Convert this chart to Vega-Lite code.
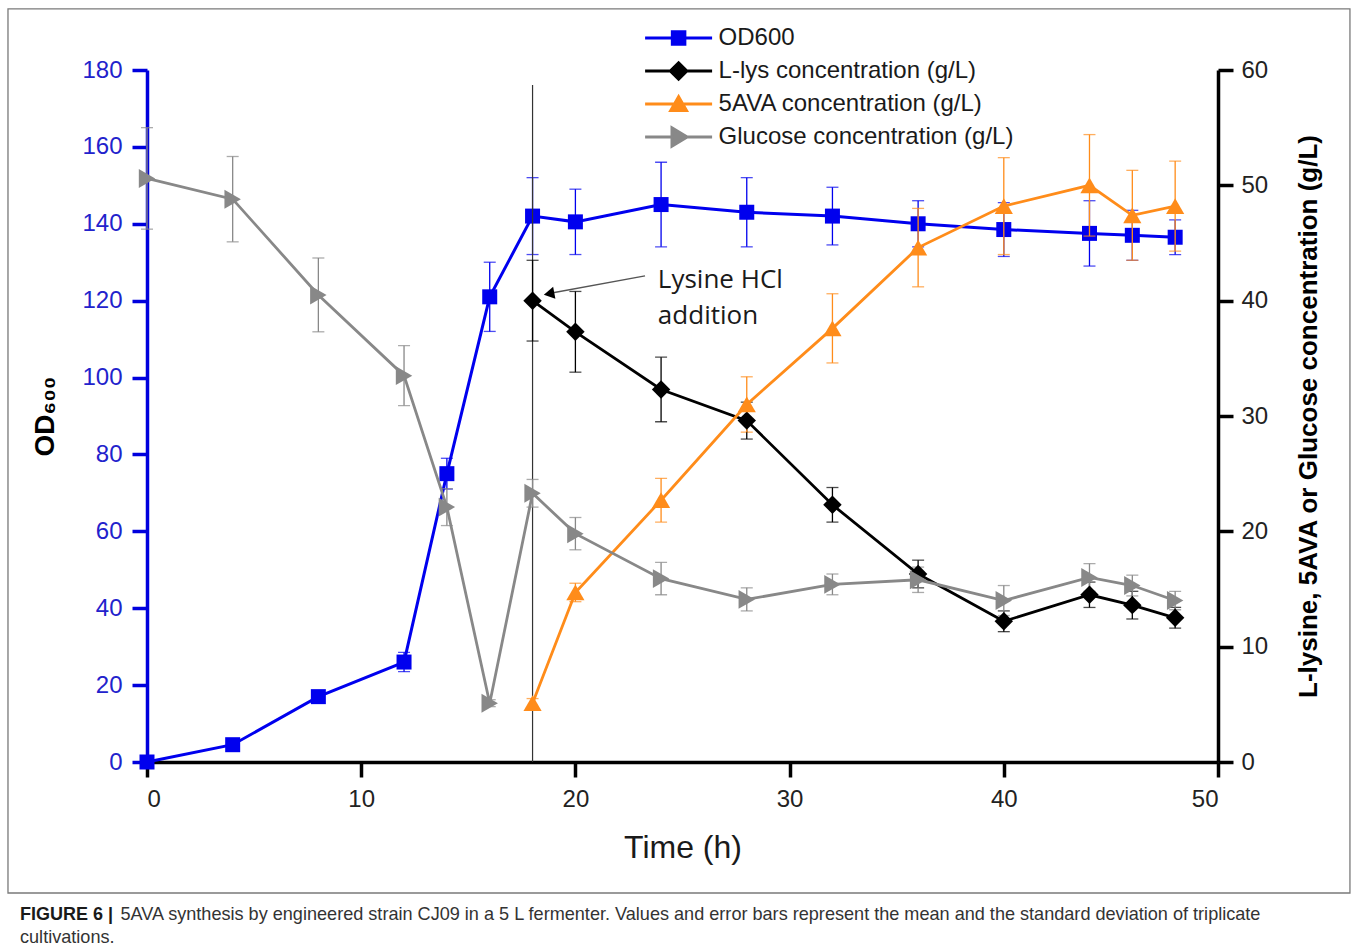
{
  "$schema": "https://vega.github.io/schema/vega-lite/v6.json",
  "width": 1071,
  "height": 692,
  "autosize": {"type": "none"},
  "padding": {"left": 147, "top": 70, "right": 142, "bottom": 189},
  "background": "white",
  "config": {"view": {"stroke": null}, "font": "Liberation Sans"},
  "title": {
    "text": "FIGURE 6 |",
    "subtitle": ["\u200b\u00a0\u00a0\u00a0\u00a0\u00a0\u00a0\u00a0\u00a0\u00a0\u00a0\u00a0\u00a0\u00a0\u00a0\u00a0\u00a0\u00a0\u00a0\u00a0\u00a05AVA synthesis by engineered strain CJ09 in a 5 L fermenter. Values and error bars represent the mean and the standard deviation of triplicate", "cultivations."],
    "orient": "bottom",
    "anchor": "start",
    "frame": "group",
    "dx": -127,
    "offset": 12,
    "font": "Liberation Sans",
    "fontSize": 18,
    "fontWeight": "bold",
    "color": "#1a1a1a",
    "subtitleFont": "Liberation Sans",
    "subtitleFontSize": 18.1,
    "subtitleColor": "#333333",
    "subtitlePadding": -18,
    "subtitleLineHeight": 23
  },
  "data": {
    "values": [
      {"t": 0, "series": "OD600", "v": 0, "sd": 0},
      {"t": 4, "series": "OD600", "v": 4.5, "sd": 0.5},
      {"t": 8, "series": "OD600", "v": 17, "sd": 0.8},
      {"t": 12, "series": "OD600", "v": 26, "sd": 2.5},
      {"t": 14, "series": "OD600", "v": 75, "sd": 4},
      {"t": 16, "series": "OD600", "v": 121, "sd": 9},
      {"t": 18, "series": "OD600", "v": 142, "sd": 10},
      {"t": 20, "series": "OD600", "v": 140.5, "sd": 8.5},
      {"t": 24, "series": "OD600", "v": 145, "sd": 11},
      {"t": 28, "series": "OD600", "v": 143, "sd": 9},
      {"t": 32, "series": "OD600", "v": 142, "sd": 7.5},
      {"t": 36, "series": "OD600", "v": 140, "sd": 6},
      {"t": 40, "series": "OD600", "v": 138.5, "sd": 7},
      {"t": 44, "series": "OD600", "v": 137.5, "sd": 8.5},
      {"t": 46, "series": "OD600", "v": 137, "sd": 6.5},
      {"t": 48, "series": "OD600", "v": 136.5, "sd": 4.5},
      {"t": 18, "series": "L-lys concentration (g/L)", "v": 40, "sd": 3.5},
      {"t": 20, "series": "L-lys concentration (g/L)", "v": 37.3, "sd": 3.5},
      {"t": 24, "series": "L-lys concentration (g/L)", "v": 32.3, "sd": 2.8},
      {"t": 28, "series": "L-lys concentration (g/L)", "v": 29.6, "sd": 1.6},
      {"t": 32, "series": "L-lys concentration (g/L)", "v": 22.3, "sd": 1.5},
      {"t": 36, "series": "L-lys concentration (g/L)", "v": 16.3, "sd": 1.2},
      {"t": 40, "series": "L-lys concentration (g/L)", "v": 12.2, "sd": 0.9},
      {"t": 44, "series": "L-lys concentration (g/L)", "v": 14.5, "sd": 1.1},
      {"t": 46, "series": "L-lys concentration (g/L)", "v": 13.6, "sd": 1.2},
      {"t": 48, "series": "L-lys concentration (g/L)", "v": 12.5, "sd": 0.9},
      {"t": 18, "series": "5AVA concentration (g/L)", "v": 5.1, "sd": 0.4},
      {"t": 20, "series": "5AVA concentration (g/L)", "v": 14.7, "sd": 0.8},
      {"t": 24, "series": "5AVA concentration (g/L)", "v": 22.7, "sd": 1.9},
      {"t": 28, "series": "5AVA concentration (g/L)", "v": 31.0, "sd": 2.4},
      {"t": 32, "series": "5AVA concentration (g/L)", "v": 37.6, "sd": 3.0},
      {"t": 36, "series": "5AVA concentration (g/L)", "v": 44.6, "sd": 3.4},
      {"t": 40, "series": "5AVA concentration (g/L)", "v": 48.2, "sd": 4.2},
      {"t": 44, "series": "5AVA concentration (g/L)", "v": 50.0, "sd": 4.4},
      {"t": 46, "series": "5AVA concentration (g/L)", "v": 47.4, "sd": 3.9},
      {"t": 48, "series": "5AVA concentration (g/L)", "v": 48.2, "sd": 3.9},
      {"t": 0, "series": "Glucose concentration (g/L)", "v": 50.6, "sd": 4.4},
      {"t": 4, "series": "Glucose concentration (g/L)", "v": 48.8, "sd": 3.7},
      {"t": 8, "series": "Glucose concentration (g/L)", "v": 40.5, "sd": 3.2},
      {"t": 12, "series": "Glucose concentration (g/L)", "v": 33.5, "sd": 2.6},
      {"t": 14, "series": "Glucose concentration (g/L)", "v": 22.1, "sd": 1.6},
      {"t": 16, "series": "Glucose concentration (g/L)", "v": 5.1, "sd": 0.3},
      {"t": 18, "series": "Glucose concentration (g/L)", "v": 23.3, "sd": 1.2},
      {"t": 20, "series": "Glucose concentration (g/L)", "v": 19.8, "sd": 1.4},
      {"t": 24, "series": "Glucose concentration (g/L)", "v": 15.9, "sd": 1.4},
      {"t": 28, "series": "Glucose concentration (g/L)", "v": 14.1, "sd": 1.0},
      {"t": 32, "series": "Glucose concentration (g/L)", "v": 15.4, "sd": 0.9},
      {"t": 36, "series": "Glucose concentration (g/L)", "v": 15.8, "sd": 1.1},
      {"t": 40, "series": "Glucose concentration (g/L)", "v": 14.0, "sd": 1.3},
      {"t": 44, "series": "Glucose concentration (g/L)", "v": 16.0, "sd": 1.2},
      {"t": 46, "series": "Glucose concentration (g/L)", "v": 15.3, "sd": 0.9},
      {"t": 48, "series": "Glucose concentration (g/L)", "v": 14.0, "sd": 0.8}
    ]
  },
  "encoding": {
    "x": {
      "field": "t",
      "type": "quantitative",
      "scale": {"domain": [0, 50], "nice": false, "zero": false},
      "axis": {
        "values": [0, 10, 20, 30, 40, 50],
        "title": "Time (h)",
        "grid": false,
        "domainColor": "#000000",
        "domainWidth": 3.5,
        "tickColor": "#000000",
        "tickWidth": 3.5,
        "tickSize": 15,
        "labelFont": "Liberation Sans",
        "labelFontSize": 24,
        "labelColor": "#222222",
        "labelPadding": 10,
        "titleFont": "Liberation Sans",
        "titleFontSize": 32,
        "titleFontWeight": "normal",
        "titleColor": "#1a1a1a",
        "titlePadding": 21
      }
    }
  },
  "layer": [
    {
      "transform": [{"filter": "datum.series === 'OD600'"}],
      "encoding": {
        "y": {
          "field": "v",
          "type": "quantitative",
          "scale": {"domain": [0, 180], "nice": false},
          "axis": {
            "orient": "left",
            "values": [0, 20, 40, 60, 80, 100, 120, 140, 160, 180],
            "title": "OD₆₀₀",
            "grid": false,
            "domainColor": "#0000dd",
            "domainWidth": 3.5,
            "tickColor": "#0000dd",
            "tickWidth": 3.5,
            "tickSize": 15,
            "labelFont": "Liberation Sans",
            "labelFontSize": 24,
            "labelColor": "#2222cc",
            "labelPadding": 10,
            "titleFont": "Liberation Sans",
            "titleFontSize": 28,
            "titleFontWeight": "bold",
            "titleColor": "#000000",
            "titlePadding": 22
          }
        }
      },
      "layer": [
        {
          "mark": {"type": "errorbar", "ticks": {"size": 12, "thickness": 1.3}, "thickness": 1.3, "color": "#0000ee"},
          "encoding": {"yError": {"field": "sd"}}
        },
        {
          "mark": {"type": "line", "strokeWidth": 3, "color": "#0000ee"}
        },
        {
          "mark": {"type": "point", "shape": "square", "filled": true, "size": 225, "opacity": 1, "color": "#0000ee"}
        }
      ]
    },
    {
      "encoding": {
        "y": {
          "field": "v",
          "type": "quantitative",
          "scale": {"domain": [0, 60], "nice": false},
          "axis": {
            "orient": "right",
            "values": [0, 10, 20, 30, 40, 50, 60],
            "title": "L-lysine, 5AVA or Glucose concentration (g/L)",
            "grid": false,
            "domainColor": "#000000",
            "domainWidth": 3.5,
            "tickColor": "#000000",
            "tickWidth": 3.5,
            "tickSize": 15,
            "labelFont": "Liberation Sans",
            "labelFontSize": 24,
            "labelColor": "#222222",
            "labelPadding": 8,
            "titleFont": "Liberation Sans",
            "titleFontSize": 26,
            "titleFontWeight": "bold",
            "titleColor": "#000000",
            "titleAngle": 270,
            "titlePadding": 54
          }
        }
      },
      "layer": [
        {
          "transform": [{"filter": "datum.t === 0 && datum.series === 'OD600'"}],
          "mark": {"type": "rect", "fill": "transparent", "stroke": "#7a7a7a", "strokeWidth": 1.3, "clip": false},
          "encoding": {"x": {"datum": -6.49}, "x2": {"datum": 56.16}, "y": {"datum": 65.3}, "y2": {"datum": -11.36}}
        },
        {
          "transform": [{"filter": "datum.t === 0 && datum.series === 'OD600'"}],
          "mark": {"type": "rule", "color": "#333333", "strokeWidth": 1.2},
          "encoding": {"x": {"datum": 18}, "y": {"datum": 0}, "y2": {"datum": 58.7}}
        },
        {
          "transform": [{"filter": "datum.series !== 'OD600'"}],
          "mark": {"type": "errorbar", "ticks": {"size": 12, "thickness": 1.3}, "thickness": 1.3},
          "encoding": {
            "yError": {"field": "sd"},
            "color": {"field": "series", "type": "nominal", "scale": {"domain": ["L-lys concentration (g/L)", "5AVA concentration (g/L)", "Glucose concentration (g/L)"], "range": ["#000000", "#ff8c1a", "#888888"]}, "legend": null}
          }
        },
        {
          "transform": [{"filter": "datum.series !== 'OD600'"}],
          "mark": {"type": "line", "strokeWidth": 2.8},
          "encoding": {
            "color": {"field": "series", "type": "nominal", "scale": {"domain": ["L-lys concentration (g/L)", "5AVA concentration (g/L)", "Glucose concentration (g/L)"], "range": ["#000000", "#ff8c1a", "#888888"]}, "legend": null}
          }
        },
        {
          "transform": [{"filter": "datum.series === 'L-lys concentration (g/L)'"}],
          "mark": {"type": "point", "shape": "diamond", "filled": true, "size": 340, "opacity": 1, "color": "#000000"}
        },
        {
          "transform": [{"filter": "datum.series === '5AVA concentration (g/L)'"}],
          "mark": {"type": "point", "shape": "triangle-up", "filled": true, "size": 330, "opacity": 1, "color": "#ff8c1a"}
        },
        {
          "transform": [{"filter": "datum.series === 'Glucose concentration (g/L)'"}],
          "mark": {"type": "point", "shape": "triangle-right", "filled": true, "size": 360, "opacity": 1, "color": "#888888"}
        },
        {
          "transform": [{"filter": "datum.t === 0 && datum.series === 'OD600'"}],
          "mark": {"type": "rule", "color": "#555555", "strokeWidth": 1.5},
          "encoding": {"x": {"datum": 23.25}, "y": {"datum": 42.15}, "x2": {"datum": 18.7}, "y2": {"datum": 40.6}}
        },
        {
          "transform": [{"filter": "datum.t === 0 && datum.series === 'OD600'"}],
          "mark": {"type": "point", "shape": "triangle-left", "filled": true, "color": "#000000", "size": 150, "angle": -10.4, "opacity": 1},
          "encoding": {"x": {"datum": 18.77}, "y": {"datum": 40.6}}
        },
        {
          "transform": [{"filter": "datum.t === 0 && datum.series === 'OD600'"}],
          "mark": {"type": "text", "text": "Lysine HCl", "font": "Open Sans", "fontSize": 26, "color": "#1a1a1a", "align": "left", "baseline": "middle"},
          "encoding": {"x": {"datum": 23.85}, "y": {"datum": 41.8}}
        },
        {
          "transform": [{"filter": "datum.t === 0 && datum.series === 'OD600'"}],
          "mark": {"type": "text", "text": "addition", "font": "Open Sans", "fontSize": 26, "color": "#1a1a1a", "align": "left", "baseline": "middle"},
          "encoding": {"x": {"datum": 23.85}, "y": {"datum": 38.7}}
        },
        {
          "mark": {"type": "point", "filled": true, "opacity": 0},
          "encoding": {
            "fill": {
              "field": "series", "type": "nominal",
              "scale": {"domain": ["OD600", "L-lys concentration (g/L)", "5AVA concentration (g/L)", "Glucose concentration (g/L)"], "range": ["#0000ee", "#000000", "#ff8c1a", "#888888"]},
              "legend": {"orient": "none", "legendX": 496.6, "legendY": -48.5, "title": null, "symbolSize": 4489, "symbolStrokeWidth": 2.8, "symbolOpacity": 1, "labelFontSize": 24, "labelFont": "Liberation Sans", "labelColor": "#1a1a1a", "labelOffset": 5, "labelLimit": 500, "clipHeight": 33, "rowPadding": 0, "padding": 0}
            },
            "stroke": {
              "field": "series", "type": "nominal",
              "scale": {"domain": ["OD600", "L-lys concentration (g/L)", "5AVA concentration (g/L)", "Glucose concentration (g/L)"], "range": ["#0000ee", "#000000", "#ff8c1a", "#888888"]},
              "legend": {"orient": "none", "legendX": 496.6, "legendY": -48.5, "title": null, "symbolSize": 4489, "symbolStrokeWidth": 2.8, "symbolOpacity": 1, "labelFontSize": 24, "labelFont": "Liberation Sans", "labelColor": "#1a1a1a", "labelOffset": 5, "labelLimit": 500, "clipHeight": 33, "rowPadding": 0, "padding": 0}
            },
            "shape": {
              "field": "series", "type": "nominal",
              "scale": {"domain": ["OD600", "L-lys concentration (g/L)", "5AVA concentration (g/L)", "Glucose concentration (g/L)"], "range": ["M-1,0H1M-0.19,-0.19H0.19V0.19H-0.19Z", "M-1,0H1M-0.25,0L0,-0.25L0.25,0L0,0.25Z", "M-1,0H1M-0.24,0.2L0,-0.22L0.24,0.2Z", "M-1,0H1M-0.2,-0.28L0.26,0L-0.2,0.28Z"]},
              "legend": {"orient": "none", "legendX": 496.6, "legendY": -48.5, "title": null, "symbolSize": 4489, "symbolStrokeWidth": 2.8, "symbolOpacity": 1, "labelFontSize": 24, "labelFont": "Liberation Sans", "labelColor": "#1a1a1a", "labelOffset": 5, "labelLimit": 500, "clipHeight": 33, "rowPadding": 0, "padding": 0}
            }
          }
        }
      ]
    }
  ],
  "resolve": {"scale": {"y": "independent"}, "axis": {"y": "independent"}}
}
